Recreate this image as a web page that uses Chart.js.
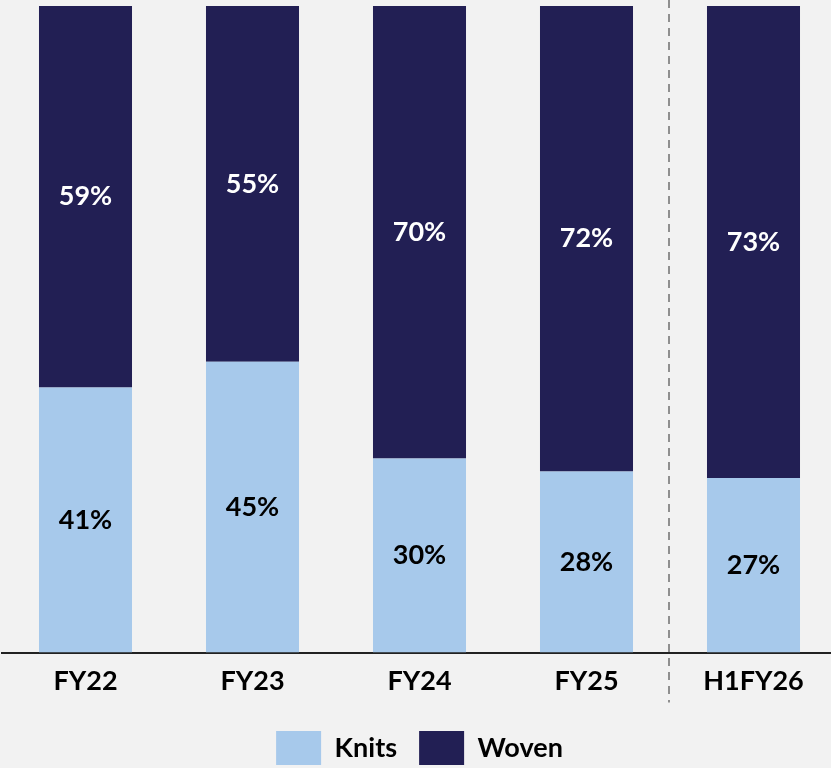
<!DOCTYPE html>
<html>
<head>
<meta charset="utf-8">
<script src="https://cdn.jsdelivr.net/npm/chart.js@4"></script>
<style>
  html, body { margin: 0; padding: 0; background: #f2f2f2; overflow: hidden; }
  #wrap { width: 840px; height: 775px; }
</style>
</head>
<body>
<div id="wrap"><canvas id="myChart"></canvas></div>
<script>
// data
var categories = ["FY22", "FY23", "FY24", "FY25", "H1FY26"];
var knits = [41, 45, 30, 28, 27];
var woven = [59, 55, 70, 72, 73];
var seriesNames = ["Knits", "Woven"];
var barColors = ["#a7c9eb", "#221f54"];
var labelColors = ["#000000", "#ffffff"];

var fontFam = "Lato, 'Open Sans', sans-serif";

// percent labels in the middle of each segment
var segLabels = {
    id: "segLabels",
    afterDatasetsDraw(chart) {
        var ctx = chart.ctx;
        ctx.save();
        ctx.font = "bold 27px " + fontFam;
        ctx.textAlign = "center";
        ctx.textBaseline = "middle";
        chart.data.datasets.forEach((ds, i) => {
            var meta = chart.getDatasetMeta(i);
            meta.data.forEach((bar, j) => {
                var props = bar.getProps(["x", "y", "base"], true);
                ctx.fillStyle = labelColors[i];
                ctx.fillText(ds.data[j] + "%", props.x, (props.y + props.base) / 2);
            });
        });
        ctx.restore();
    }
};

// dashed divider between FY25 and H1FY26
var divider = {
    id: "divider",
    afterDraw(chart) {
        var xs = chart.scales.x;
        var x = Math.round((xs.getPixelForValue(3) + xs.getPixelForValue(4)) / 2) - 1;
        var ctx = chart.ctx;
        ctx.save();
        ctx.strokeStyle = "#8f8f8f";
        ctx.lineWidth = 2;
        ctx.setLineDash([8, 6]);
        ctx.beginPath();
        ctx.moveTo(x, 0);
        ctx.lineTo(x, chart.chartArea.bottom + 50);
        ctx.stroke();
        ctx.restore();
    }
};

new Chart("myChart", {
    type: "bar",
    data: {
        labels: categories,
        datasets: [
            { label: seriesNames[0], data: knits, backgroundColor: barColors[0] },
            { label: seriesNames[1], data: woven, backgroundColor: barColors[1] }
        ]
    },
    options: {
        responsive: true,
        maintainAspectRatio: false,
        animation: false,
        layout: { padding: { top: 6, left: 2, right: 3, bottom: 0 } },
        datasets: { bar: { barPercentage: 0.557, categoryPercentage: 1 } },
        scales: {
            x: {
                stacked: true,
                grid: { display: false, drawTicks: false },
                border: { display: true, color: "#222222", width: 2 },
                ticks: { color: "#000", padding: 12, font: { family: fontFam, size: 27, weight: "bold" } }
            },
            y: {
                stacked: true,
                display: false,
                min: 0,
                max: 100
            }
        },
        plugins: {
            tooltip: { enabled: false },
            legend: {
                position: "bottom",
                labels: {
                    boxWidth: 45,
                    boxHeight: 34,
                    padding: 22,
                    color: "#000",
                    font: { family: fontFam, size: 27, weight: "bold" }
                }
            }
        }
    },
    plugins: [segLabels, divider]
});
</script>
</body>
</html>
